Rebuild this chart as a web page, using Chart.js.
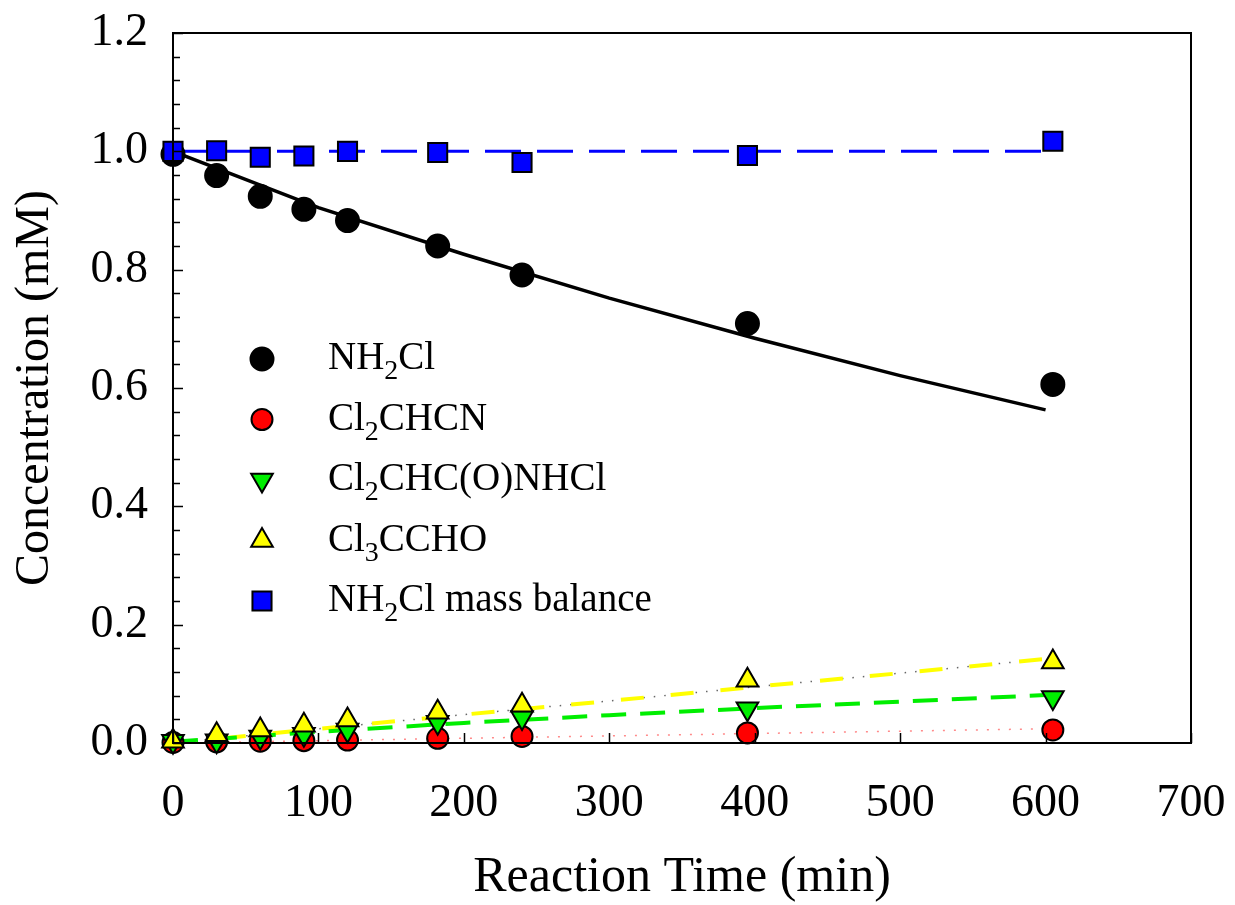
<!DOCTYPE html>
<html>
<head>
<meta charset="utf-8">
<script src="https://cdn.jsdelivr.net/npm/chart.js@4/dist/chart.umd.min.js"></script>
<style>
  html, body { margin: 0; padding: 0; background: #fff; }
  #wrap { width: 1235px; height: 905px; }
</style>
</head>
<body>
<div id="wrap"><canvas id="myChart" width="1235" height="905"></canvas></div>
<script>
// measured points (reaction time in min, concentration in mM)
const times = [0, 30, 60, 90, 120, 182, 240, 395, 605];
const nh2cl = [0.995, 0.959, 0.924, 0.902, 0.883, 0.840, 0.791, 0.709, 0.606];
const cl2chcn = [0.001, 0.002, 0.003, 0.004, 0.005, 0.008, 0.011, 0.017, 0.022];
const cl2chcNHCl = [0.003, 0.004, 0.010, 0.015, 0.022, 0.035, 0.043, 0.058, 0.077];
const cl3ccho = [0.003, 0.014, 0.022, 0.030, 0.039, 0.052, 0.064, 0.106, 0.137];
const massBalance = [1.000, 1.001, 0.990, 0.992, 1.000, 0.998, 0.981, 0.993, 1.017];

// model curves
const fitTimes = [0, 100, 200, 300, 400, 500, 600];
const nh2clFit = [1.000, 0.905, 0.826, 0.752, 0.684, 0.621, 0.563];
const cl2chcnFit = [0.000, 0.004, 0.008, 0.012, 0.016, 0.020, 0.024];
const amideFit = [0.002, 0.019, 0.034, 0.047, 0.059, 0.070, 0.081];
const cl3cchoFit = [0.000, 0.024, 0.048, 0.071, 0.095, 0.118, 0.142];
const balanceFit = [1, 1, 1, 1, 1, 1, 1];

const legendLabels = ['NH_2Cl', 'Cl_2CHCN', 'Cl_2CHC(O)NHCl', 'Cl_3CCHO', 'NH_2Cl mass balance'];
const xTicks = [0, 100, 200, 300, 400, 500, 600, 700];
const yTicks = [0, 0.2, 0.4, 0.6, 0.8, 1.0, 1.2];

const FONT = '"Liberation Serif", "Times New Roman", serif';

function pts(xs, ys) {
    return xs.map((x, i) => ({x: x, y: ys[i]}));
}

function markerSet(label, ys, style, fill, radius, rotation, order) {
    return {
        label: label,
        data: pts(times, ys),
        showLine: false,
        pointStyle: style,
        pointRadius: radius,
        pointRotation: rotation,
        pointBackgroundColor: fill,
        pointBorderColor: '#000',
        pointBorderWidth: 2,
        clip: false,
        order: order
    };
}

function lineSet(ys, color, width, dash, order) {
    return {
        data: pts(fitTimes, ys),
        showLine: true,
        borderColor: color,
        borderWidth: width,
        borderDash: dash,
        pointRadius: 0,
        fill: false,
        clip: false,
        order: order
    };
}

const markerSpecs = [
    {style: 'circle', fill: '#000000', radius: 11.5, rotation: 0},
    {style: 'circle', fill: '#ff0000', radius: 10.5, rotation: 0},
    {style: 'triangle', fill: '#00ee00', radius: 12.5, rotation: 180},
    {style: 'triangle', fill: '#ffff00', radius: 12.5, rotation: 0},
    {style: 'rect', fill: '#0000ff', radius: 13.5, rotation: 0}
];

// legend + frame + inward ticks
const decor = {
    id: 'decor',
    afterDraw(chart) {
        const ctx = chart.ctx;
        const a = chart.chartArea;
        const xs = chart.scales.x, ys = chart.scales.y;
        ctx.save();
        ctx.strokeStyle = '#000';
        ctx.lineWidth = 2;
        ctx.strokeRect(a.left, a.top, a.right - a.left, a.bottom - a.top);
        ctx.beginPath();
        for (let v = 0; v <= 1.2001; v += 0.04) {
            const y = Math.round(ys.getPixelForValue(v)) + 0.5;
            const major = Math.abs(v / 0.2 - Math.round(v / 0.2)) < 1e-6;
            ctx.moveTo(a.left, y);
            ctx.lineTo(a.left + (major ? 10 : 7), y);
        }
        xTicks.forEach(v => {
            const x = Math.round(xs.getPixelForValue(v)) + 0.5;
            ctx.moveTo(x, a.bottom);
            ctx.lineTo(x, a.bottom - 10);
        });
        ctx.lineWidth = 1.5;
        ctx.stroke();

        // legend
        const mx = 262, tx = 328, y0 = 359, dy = 60.5, fs = 39;
        legendLabels.forEach((lab, i) => {
            const y = y0 + i * dy;
            const s = markerSpecs[i];
            ctx.fillStyle = s.fill;
            ctx.strokeStyle = '#000';
            ctx.lineWidth = 2;
            Chart.helpers.drawPoint(ctx, {pointStyle: s.style, radius: s.radius, rotation: s.rotation, borderWidth: 2}, mx, y);
            ctx.fillStyle = '#000';
            ctx.textBaseline = 'middle';
            ctx.textAlign = 'left';
            let x = tx;
            const parts = lab.split(/(_\d)/);
            parts.forEach(p => {
                if (!p) return;
                if (p[0] === '_') {
                    ctx.font = Math.round(fs * 0.72) + 'px ' + FONT;
                    ctx.fillText(p.slice(1), x, y + fs * 0.33);
                    x += ctx.measureText(p.slice(1)).width;
                } else {
                    ctx.font = fs + 'px ' + FONT;
                    ctx.fillText(p, x, y);
                    x += ctx.measureText(p).width;
                }
            });
        });
        ctx.restore();
    }
};

const ctx = document.getElementById('myChart').getContext('2d');
const myChart = new Chart(ctx, {
    type: 'scatter',
    data: {
        datasets: [
            markerSet(legendLabels[0], nh2cl, 'circle', '#000000', 11.5, 0, 5),
            markerSet(legendLabels[1], cl2chcn, 'circle', '#ff0000', 10.5, 0, 4),
            markerSet(legendLabels[2], cl2chcNHCl, 'triangle', '#00ee00', 12.5, 180, 3),
            markerSet(legendLabels[3], cl3ccho, 'triangle', '#ffff00', 12.5, 0, 2),
            markerSet(legendLabels[4], massBalance, 'rect', '#0000ff', 13.5, 0, 1),
            lineSet(nh2clFit, '#000000', 3.5, [], 10),
            lineSet(cl2chcnFit, '#ff8a8a', 1.5, [2, 9], 11),
            lineSet(amideFit, '#00ee00', 4, [25, 14], 12),
            lineSet(cl3cchoFit, '#ffff00', 4, [23, 27], 13),
            lineSet(cl3cchoFit, '#666666', 1.5, [1.5, 9], 14),
            lineSet(balanceFit, '#0000ff', 3, [36, 16], 15)
        ]
    },
    options: {
        responsive: false,
        animation: false,
        devicePixelRatio: 1,
        layout: {padding: {top: 33, right: 44, left: 0, bottom: 0}},
        plugins: {legend: {display: false}, tooltip: {enabled: false}},
        scales: {
            x: {
                type: 'linear',
                min: 0,
                max: 700,
                afterFit: s => { s.height = 162; s.paddingLeft = 0; s.paddingRight = 0; },
                afterBuildTicks: s => { s.ticks = xTicks.map(v => ({value: v})); },
                grid: {display: false, drawTicks: false},
                border: {display: false},
                ticks: {
                    padding: 33,
                    color: '#000',
                    font: {family: FONT, size: 46},
                    callback: v => String(v)
                },
                title: {
                    display: true,
                    text: 'Reaction Time (min)',
                    color: '#000',
                    font: {family: FONT, size: 50, lineHeight: 1.0},
                    padding: {top: 0, bottom: 2}
                }
            },
            y: {
                type: 'linear',
                min: 0,
                max: 1.2,
                afterFit: s => { s.width = 173; s.paddingTop = 0; s.paddingBottom = 0; },
                afterBuildTicks: s => { s.ticks = yTicks.map(v => ({value: v})); },
                grid: {display: false, drawTicks: false},
                border: {display: false},
                ticks: {
                    padding: 25,
                    color: '#000',
                    font: {family: FONT, size: 46},
                    callback: v => v.toFixed(1)
                },
                title: {
                    display: true,
                    text: 'Concentration (mM)',
                    color: '#000',
                    font: {family: FONT, size: 48},
                    padding: {top: 7, bottom: 0}
                }
            }
        }
    },
    plugins: [decor]
});
</script>
</body>
</html>
